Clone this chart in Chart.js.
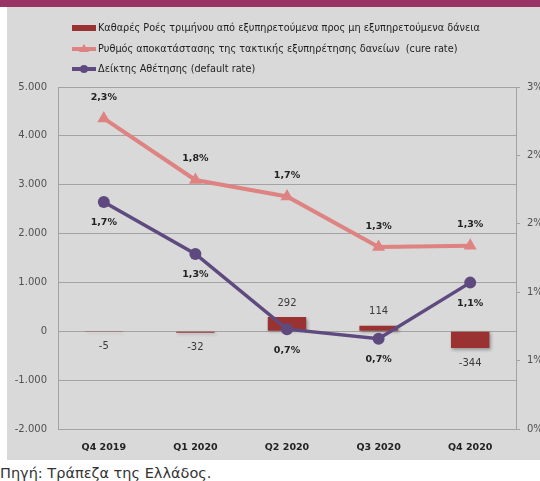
<!DOCTYPE html>
<html>
<head>
<meta charset="utf-8">
<script src="https://cdn.jsdelivr.net/npm/chart.js@4/dist/chart.umd.min.js"></script>
<style>
  body { margin: 0; background: #fff; width: 540px; height: 481px; position: relative; overflow: hidden; }
  #band { position: absolute; left: 0; top: 0; width: 540px; height: 7px; background: #993366; }
  #panel { position: absolute; left: 7px; top: 7px; width: 533px; height: 453px; background: #d9d9d9; }
  #wrap { position: absolute; left: 0; top: 0; width: 540px; height: 460px; }
  #source { position: absolute; left: 0; top: 465px; font: 14.5px "DejaVu Sans", sans-serif; color: #333; white-space: nowrap; }
</style>
</head>
<body>
<div id="band"></div>
<div id="panel"></div>
<div id="wrap"><canvas id="chart" width="540" height="460"></canvas></div>
<div id="source">Πηγή: Τράπεζα της Ελλάδος.</div>
<script>
const categories = ["Q4 2019", "Q1 2020", "Q2 2020", "Q3 2020", "Q4 2020"];
const netFlows = [-5, -32, 292, 114, -344];
const cureRate = [2.27, 1.82, 1.70, 1.33, 1.34];
const defaultRate = [1.66, 1.28, 0.73, 0.66, 1.07];
const seriesNames = [
    "Καθαρές Ροές τριμήνου από εξυπηρετούμενα προς μη εξυπηρετούμενα δάνεια",
    "Ρυθμός αποκατάστασης της τακτικής εξυπηρέτησης δανείων  (cure rate)",
    "Δείκτης Αθέτησης (default rate)"
];

const BAR = "#9a3232";
const CURE = "#de8282";
const DEF = "#5f4a80";
const GRID = "#a3a3a3";

function thousands(v) {
    const s = String(Math.abs(v)).replace(/\B(?=(\d{3})+(?!\d))/g, ".");
    return (v < 0 ? "-" : "") + s;
}

// soft shadow under the bars, like the original
const barShadow = {
    id: "barShadow",
    beforeDatasetDraw(chart, args) {
        if (args.meta.type !== "bar") return;
        const ctx = chart.ctx;
        ctx.save();
        ctx.shadowColor = "rgba(0,0,0,0.3)";
        ctx.shadowBlur = 3;
        ctx.shadowOffsetX = 1.5;
        ctx.shadowOffsetY = 1.5;
    },
    afterDatasetDraw(chart, args) {
        if (args.meta.type !== "bar") return;
        chart.ctx.restore();
    }
};

// labels next to bars and points
const valueLabels = {
    id: "valueLabels",
    afterDatasetsDraw(chart) {
        const ctx = chart.ctx;
        ctx.save();
        ctx.textAlign = "center";
        ctx.textBaseline = "middle";
        chart.data.datasets.forEach((ds, i) => {
            const meta = chart.getDatasetMeta(i);
            meta.data.forEach((el, j) => {
                const v = ds.data[j];
                let y, text;
                if (ds.type === "bar") {
                    ctx.font = '10px "DejaVu Sans"';
                    ctx.fillStyle = "#3a3a3a";
                    text = String(v);
                    y = v >= 0 ? Math.min(el.y, el.base) - 14 : Math.max(el.y, el.base) + 15;
                } else {
                    ctx.font = 'bold 9.5px "DejaVu Sans"';
                    ctx.fillStyle = "#222";
                    text = v.toFixed(1).replace(".", ",") + "%";
                    y = el.y + ds.labelShift;
                }
                ctx.fillText(text, el.x, y);
            });
        });
        ctx.restore();
    }
};

// stacked legend in the top-left corner
const stackLegend = {
    id: "stackLegend",
    afterDraw(chart) {
        const ctx = chart.ctx;
        const rows = [28, 49, 69];
        ctx.save();
        ctx.textBaseline = "middle";
        ctx.textAlign = "left";
        ctx.font = '10.8px "Liberation Sans Narrow", "DejaVu Sans Condensed"';
        chart.data.datasets.forEach((ds, i) => {
            const y = rows[i];
            if (ds.type === "bar") {
                ctx.fillStyle = ds.backgroundColor;
                ctx.fillRect(72, y - 3, 24, 6);
            } else {
                ctx.strokeStyle = ds.borderColor;
                ctx.lineWidth = 4;
                ctx.beginPath();
                ctx.moveTo(72, y);
                ctx.lineTo(96, y);
                ctx.stroke();
                ctx.fillStyle = ds.borderColor;
                ctx.beginPath();
                if (ds.pointStyle === "triangle") {
                    ctx.moveTo(84, y - 5);
                    ctx.lineTo(89, y + 3);
                    ctx.lineTo(79, y + 3);
                    ctx.closePath();
                } else {
                    ctx.arc(84, y, 4, 0, Math.PI * 2);
                }
                ctx.fill();
            }
            ctx.fillStyle = "#1e1e1e";
            ctx.fillText(ds.label, 98, y);
        });
        ctx.restore();
    }
};

new Chart(document.getElementById("chart"), {
    data: {
        labels: categories,
        datasets: [
            {
                type: "bar",
                label: seriesNames[0],
                data: netFlows,
                backgroundColor: BAR,
                yAxisID: "y",
                barPercentage: 0.42,
                categoryPercentage: 1,
                order: 3
            },
            {
                type: "line",
                label: seriesNames[1],
                data: cureRate,
                borderColor: CURE,
                backgroundColor: CURE,
                borderWidth: 4,
                pointStyle: "triangle",
                pointRadius: 7.5,
                pointBorderWidth: 0,
                yAxisID: "y1",
                labelShift: -21,
                order: 2
            },
            {
                type: "line",
                label: seriesNames[2],
                data: defaultRate,
                borderColor: DEF,
                backgroundColor: DEF,
                borderWidth: 3.5,
                pointStyle: "circle",
                pointRadius: 6,
                pointBorderWidth: 0,
                yAxisID: "y1",
                labelShift: 21,
                order: 1
            }
        ]
    },
    options: {
        responsive: false,
        animation: false,
        layout: { padding: { top: 87, right: 0, bottom: 0, left: 0 } },
        plugins: {
            legend: { display: false },
            tooltip: { enabled: false }
        },
        scales: {
            x: {
                grid: { display: false, drawTicks: false },
                border: { color: GRID },
                ticks: {
                    padding: 13,
                    color: "#222",
                    font: { family: "DejaVu Sans", size: 9.5, weight: "bold" }
                },
                afterFit: s => { s.height = 31; }
            },
            y: {
                position: "left",
                min: -2000,
                max: 5000,
                grid: { color: GRID, drawTicks: false },
                border: { color: GRID },
                ticks: {
                    stepSize: 1000,
                    padding: 11,
                    color: "#505050",
                    font: { family: "DejaVu Sans", size: 10 },
                    callback: v => thousands(v)
                },
                afterFit: s => { s.width = 58; }
            },
            y1: {
                position: "right",
                min: 0,
                max: 2.5,
                grid: { drawOnChartArea: false, drawTicks: true, tickLength: 4, color: GRID },
                border: { color: GRID },
                ticks: {
                    stepSize: 0.5,
                    padding: 7,
                    color: "#505050",
                    font: { family: "DejaVu Sans", size: 10 },
                    callback: v => Math.round(v) + "%"
                },
                afterFit: s => { s.width = 24; }
            }
        }
    },
    plugins: [barShadow, valueLabels, stackLegend]
});
</script>
</body>
</html>
